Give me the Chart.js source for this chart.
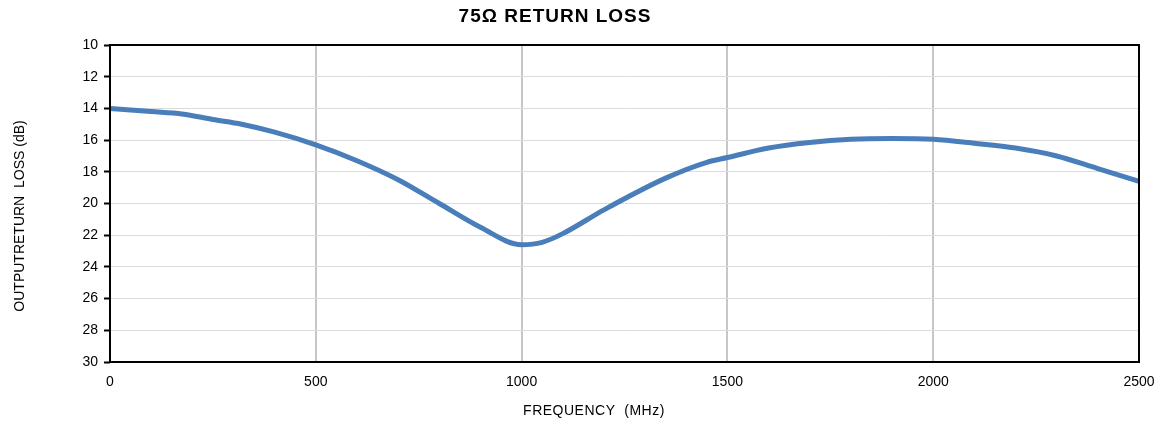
<!DOCTYPE html>
<html>
<head>
<meta charset="utf-8">
<script src="https://cdn.jsdelivr.net/npm/chart.js@4/dist/chart.umd.min.js"></script>
<style>
  html, body { margin: 0; padding: 0; background: #fff; }
  #wrap { width: 1164px; height: 424px; }
</style>
</head>
<body>
<div id="wrap"><canvas id="rlChart" width="1164" height="424"></canvas></div>
<script>
// return loss curve
const freqMHz = [0, 100, 175, 250, 320, 400, 500, 600, 700, 800, 900, 1000, 1050, 1100, 1200, 1350, 1450, 1500, 1600, 1700, 1800, 1900, 2000, 2100, 2200, 2300, 2400, 2500];
const lossDb = [14.0, 14.2, 14.35, 14.7, 15.0, 15.5, 16.3, 17.3, 18.5, 20.0, 21.5, 22.6, 22.45, 21.9, 20.4, 18.4, 17.4, 17.1, 16.5, 16.15, 15.95, 15.9, 15.95, 16.2, 16.5, 17.0, 17.8, 18.6];
const xTicks = [0, 500, 1000, 1500, 2000, 2500];
const yTicks = [10, 12, 14, 16, 18, 20, 22, 24, 26, 28, 30];

const chartTitle = "75\u03A9 RETURN LOSS";
const xTitle = "FREQUENCY  (MHz)";
const yTitle = "OUTPUTRETURN  LOSS (dB)";

const FONT = "'Liberation Sans', Arial, sans-serif";

// frame + titles drawn by hand so they sit where the original has them
const framePlugin = {
    id: "frame",
    afterDraw(chart) {
        const c = chart.ctx;
        const a = chart.chartArea;
        c.save();
        c.strokeStyle = "#000";
        c.lineWidth = 2;
        c.strokeRect(a.left, a.top, a.right - a.left, a.bottom - a.top);

        c.fillStyle = "#000";
        c.textAlign = "center";
        c.textBaseline = "middle";
        c.font = "bold 19px " + FONT;
        c.letterSpacing = "1px";
        c.fillText(chartTitle, 555, 17);

        c.font = "14px " + FONT;
        c.letterSpacing = "0.5px";
        c.fillText(xTitle, 594, 411);

        c.letterSpacing = "0px";
        c.translate(20, 216);
        c.rotate(-Math.PI / 2);
        c.fillText(yTitle, 0, 0);
        c.restore();
    },
};

new Chart(document.getElementById("rlChart"), {
    type: "line",
    data: {
        datasets: [
            {
                data: freqMHz.map((f, i) => ({ x: f, y: lossDb[i] })),
                borderColor: "#4a7ebb",
                borderWidth: 5,
                pointRadius: 0,
                cubicInterpolationMode: "monotone",
                fill: false,
            },
        ],
    },
    options: {
        responsive: false,
        animation: false,
        layout: { padding: { top: 45, right: 25, left: 0, bottom: 0 } },
        plugins: {
            legend: { display: false },
            tooltip: { enabled: false },
        },
        scales: {
            x: {
                type: "linear",
                min: 0,
                max: 2500,
                afterBuildTicks: (s) => { s.ticks = xTicks.map((v) => ({ value: v })); },
                afterFit: (s) => {
                    s.height = 424 - 362;
                    s.paddingLeft = 0;
                    s.paddingRight = 0;
                },
                grid: { color: "#c6c6c6", lineWidth: 2, drawTicks: false },
                border: { display: false },
                ticks: {
                    color: "#000",
                    font: { family: FONT, size: 14 },
                    padding: 12,
                    maxRotation: 0,
                    callback: (v) => String(v),
                },
            },
            y: {
                type: "linear",
                reverse: true,
                min: 10,
                max: 30,
                afterBuildTicks: (s) => { s.ticks = yTicks.map((v) => ({ value: v })); },
                afterFit: (s) => {
                    s.width = 110;
                    s.paddingTop = 0;
                    s.paddingBottom = 0;
                },
                grid: { color: "#dcdcdc", lineWidth: 1, tickColor: "#000", tickLength: 6, tickWidth: 2 },
                border: { display: false },
                ticks: { color: "#000", font: { family: FONT, size: 14 }, padding: 6, callback: (v) => String(v) },
            },
        },
    },
    plugins: [framePlugin],
});
</script>
</body>
</html>
